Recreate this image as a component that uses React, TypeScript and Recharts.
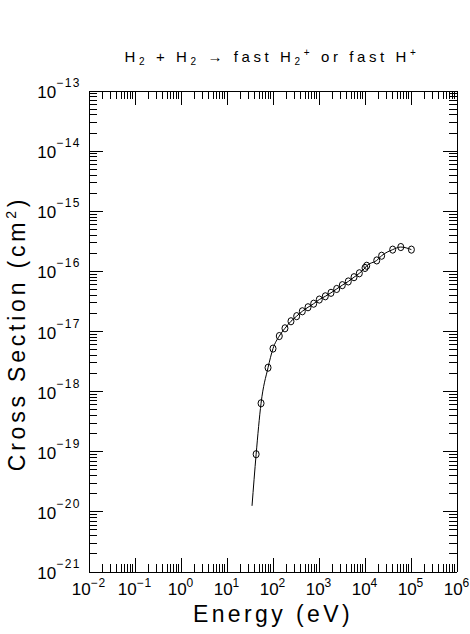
import React from "react";
import { ComposedChart, Line, Scatter, XAxis, YAxis, Label } from "recharts";

// measured points (eV, cm^2)
const energy = [43, 55, 78, 100, 137, 182, 246, 327, 434, 577, 766, 1016, 1371, 1824, 2423, 3214, 4335, 5768, 7530, 10000, 10900, 18000, 23000, 40000, 60000, 102000];
const crossSection = [
  9.1e-20, 6.4e-19, 2.5e-18, 5.2e-18, 8.4e-18, 1.13e-17, 1.48e-17, 1.8e-17, 2.17e-17, 2.53e-17,
  2.9e-17, 3.4e-17, 3.85e-17, 4.4e-17, 5.1e-17, 5.9e-17, 6.8e-17, 8.0e-17, 9.3e-17, 1.14e-16,
  1.24e-16, 1.52e-16, 1.82e-16, 2.3e-16, 2.54e-16, 2.3e-16,
];
// the fitted curve starts a bit below the first point
const fitStartEnergy = 35;
const fitStartSigma = 1.26e-20;

const xDecades = [-2, -1, 0, 1, 2, 3, 4, 5, 6];
const yDecades = [-21, -20, -19, -18, -17, -16, -15, -14, -13];
const minorSteps = [2, 3, 4, 5, 6, 7, 8, 9];

const points = energy.map((e, i) => ({ e, s: crossSection[i] }));
const curve = [{ e: fitStartEnergy, s: fitStartSigma }, ...points];

const logTicks = (decades: number[]) => {
  const t: number[] = [];
  decades.forEach((d, i) => {
    t.push(Math.pow(10, d));
    if (i < decades.length - 1) minorSteps.forEach((k) => t.push(k * Math.pow(10, d)));
  });
  return t;
};
const xTicks = logTicks(xDecades);
const yTicks = logTicks(yDecades);
const xDomain = [Math.pow(10, xDecades[0]), Math.pow(10, xDecades[xDecades.length - 1])];
const yDomain = [Math.pow(10, yDecades[0]), Math.pow(10, yDecades[yDecades.length - 1])];

const FONT = "'Liberation Sans', Arial, sans-serif";
const MAJOR = 14;
const MINOR = 8;

const decadeOf = (v: number): number | null => {
  const d = Math.round(Math.log10(v));
  return Math.abs(v / Math.pow(10, d) - 1) < 1e-6 ? d : null;
};
const expText = (d: number) => (d < 0 ? "\u2212" + Math.abs(d) : String(d));

const BottomTick = (props: any) => {
  const { x, y, payload } = props;
  const d = decadeOf(payload.value);
  return (
    <g>
      <line x1={x} y1={y} x2={x} y2={y - (d === null ? MINOR : MAJOR)} stroke="#000" shapeRendering="crispEdges" />
      {d !== null && (
        <text x={x} y={y + 23} textAnchor="middle" fontFamily={FONT} fontSize={17} fill="#000">
          10<tspan dy={-8} fontSize={12} letterSpacing={1}>{expText(d)}</tspan>
        </text>
      )}
    </g>
  );
};

const TopTick = (props: any) => {
  const { x, y, payload } = props;
  const d = decadeOf(payload.value);
  return <line x1={x} y1={y} x2={x} y2={y + (d === null ? MINOR : MAJOR)} stroke="#000" shapeRendering="crispEdges" />;
};

const LeftTick = (props: any) => {
  const { x, y, payload } = props;
  const d = decadeOf(payload.value);
  return (
    <g>
      <line x1={x} y1={y} x2={x + (d === null ? MINOR : MAJOR)} y2={y} stroke="#000" shapeRendering="crispEdges" />
      {d !== null && (
        <text x={x - 8} y={y + 7} textAnchor="end" fontFamily={FONT} fontSize={17} fill="#000">
          10<tspan dy={-11} fontSize={12} letterSpacing={1.5}>{expText(d)}</tspan>
        </text>
      )}
    </g>
  );
};

const RightTick = (props: any) => {
  const { x, y, payload } = props;
  const d = decadeOf(payload.value);
  return <line x1={x} y1={y} x2={x - (d === null ? MINOR : MAJOR)} y2={y} stroke="#000" shapeRendering="crispEdges" />;
};

const Marker = (props: any) => (
  <ellipse cx={props.cx} cy={props.cy} rx={3} ry={3.6} fill="none" stroke="#000" strokeWidth={1} />
);

const TitleLabel = (props: any) => {
  const vb = props.viewBox || { x: 89, y: 90, width: 368, height: 1 };
  return (
    <text x={vb.x + vb.width / 2 - 1} y={vb.y + vb.height - 29} textAnchor="middle" fontFamily={FONT} fontSize={15} letterSpacing={3.6} fill="#000">
      H<tspan dy={3} fontSize={10}>2</tspan>
      <tspan dy={-3}> + H</tspan>
      <tspan dy={3} fontSize={10}>2</tspan>
      <tspan dy={-3}> {"\u2192"} fast H</tspan>
      <tspan dy={3} fontSize={10}>2</tspan>
      <tspan dy={-9} fontSize={10}>+</tspan>
      <tspan dy={6}> or fast H</tspan>
      <tspan dy={-6} fontSize={10}>+</tspan>
    </text>
  );
};

const XTitle = (props: any) => {
  const vb = props.viewBox || { x: 89, y: 572, width: 368 };
  return (
    <text x={vb.x + vb.width / 2} y={vb.y + 50} textAnchor="middle" fontFamily={FONT} fontSize={23} letterSpacing={3.4} fill="#000">
      Energy (eV)
    </text>
  );
};

const YTitle = (props: any) => {
  const vb = props.viewBox || { x: 0, y: 91, height: 481 };
  const cx = vb.x + 25;
  const cy = vb.y + vb.height / 2 + 2;
  return (
    <text x={cx} y={cy} transform={`rotate(-90, ${cx}, ${cy})`} textAnchor="middle" fontFamily={FONT} fontSize={23} letterSpacing={3.8} fill="#000">
      Cross Section (cm<tspan dy={-9} fontSize={14}>2</tspan>
      <tspan dy={9}>)</tspan>
    </text>
  );
};

const axisLine = { stroke: "#000", shapeRendering: "crispEdges" };

export default function App() {
  return (
    <div style={{ position: "absolute", left: 0, top: 0 }}>
      <ComposedChart width={470} height={634} margin={{ top: 90, right: 12, bottom: 0, left: 0 }}>
        <XAxis
          dataKey="e"
          type="number"
          scale="log"
          domain={xDomain}
          allowDataOverflow
          ticks={xTicks}
          interval={0}
          height={62}
          tickSize={0}
          tickMargin={0}
          tickLine={false}
          tick={<BottomTick />}
          axisLine={axisLine}
        >
          <Label content={<XTitle />} />
        </XAxis>
        <XAxis
          xAxisId="top"
          dataKey="e"
          orientation="top"
          type="number"
          scale="log"
          domain={xDomain}
          allowDataOverflow
          ticks={xTicks}
          interval={0}
          height={1}
          tickSize={0}
          tickMargin={0}
          tickLine={false}
          tick={<TopTick />}
          axisLine={axisLine}
        >
          <Label content={<TitleLabel />} />
        </XAxis>
        <YAxis
          dataKey="s"
          type="number"
          scale="log"
          domain={yDomain}
          allowDataOverflow
          ticks={yTicks}
          interval={0}
          width={89}
          tickSize={0}
          tickMargin={0}
          tickLine={false}
          tick={<LeftTick />}
          axisLine={axisLine}
        >
          <Label content={<YTitle />} />
        </YAxis>
        <YAxis
          yAxisId="right"
          dataKey="s"
          orientation="right"
          type="number"
          scale="log"
          domain={yDomain}
          allowDataOverflow
          ticks={yTicks}
          interval={0}
          width={1}
          tickSize={0}
          tickMargin={0}
          tickLine={false}
          tick={<RightTick />}
          axisLine={axisLine}
        />
        <Line data={curve} dataKey="s" type="monotone" stroke="#000" strokeWidth={1} dot={false} isAnimationActive={false} />
        <Scatter data={points} dataKey="s" xAxisId="top" yAxisId="right" shape={<Marker />} isAnimationActive={false} />
      </ComposedChart>
    </div>
  );
}
